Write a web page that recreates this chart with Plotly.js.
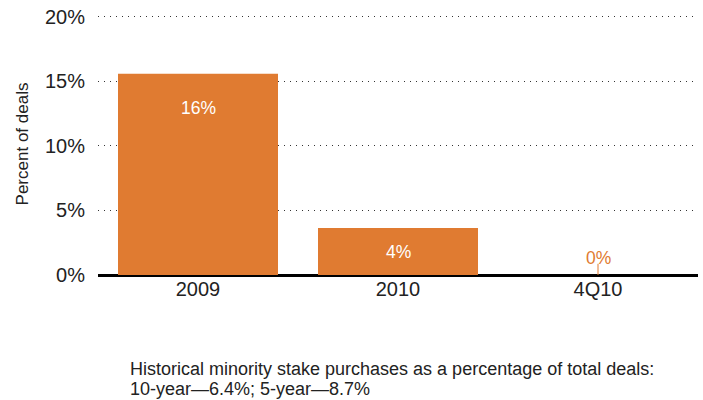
<!DOCTYPE html>
<html>
<head>
<meta charset="utf-8">
<script src="https://cdn.plot.ly/plotly-3.0.1.min.js"></script>
<style>html,body{margin:0;padding:0;background:#fff;}#chart{width:703px;height:400px;}</style>
</head>
<body>
<div id="chart"></div>
<script>
const categories = ['2009', '2010', '4Q10'];
const values = [15.6, 3.65, 0];
const labels = ['16%', '4%', '0%'];
const yTickVals = [0, 5, 10, 15, 20];
const yTickText = ['0%', '5%', '10%', '15%', '20%'];
const noteLines = [
  'Historical minority stake purchases as a percentage of total deals:',
  '10-year\u20146.4%; 5-year\u20148.7%'
];

const orange = '#E07B31';
const labelShift = [-34, -24, 17];
const labelColor = ['#ffffff', '#ffffff', orange];
const font = 'Liberation Sans, Arial, Helvetica, sans-serif';

const traces = [
  {
    type: 'bar',
    x: categories,
    y: values,
    width: 0.8,
    marker: {color: orange, line: {width: 0}},
    hoverinfo: 'skip'
  },
  {
    type: 'scatter',
    mode: 'markers',
    x: [categories[2]],
    y: [values[2]],
    marker: {symbol: 'line-ns-open', size: 16, color: orange, line: {color: orange, width: 1}},
    hoverinfo: 'skip'
  }
];

const annotations = categories.map((c, i) => ({
  x: i, y: values[i], xref: 'x', yref: 'y',
  text: labels[i], showarrow: false, yshift: labelShift[i],
  font: {family: font, size: 17.5, color: labelColor[i]}
}));
noteLines.forEach((t, i) => annotations.push({
  xref: 'paper', yref: 'paper', x: 0.05, y: -0.36 - i * 0.076,
  xanchor: 'left', yanchor: 'middle', align: 'left',
  text: t, showarrow: false,
  font: {family: font, size: 18, color: '#222'}
}));

const layout = {
  width: 703, height: 400,
  margin: {l: 98, r: 5, t: 13, b: 125},
  paper_bgcolor: '#fff', plot_bgcolor: '#fff',
  showlegend: false,
  font: {family: font, color: '#222'},
  xaxis: {
    type: 'category',
    categoryorder: 'array', categoryarray: categories,
    range: [-0.5, 2.5],
    tickfont: {family: font, size: 20, color: '#222'},
    showgrid: false, zeroline: false, showline: false,
    ticks: ''
  },
  yaxis: {
    range: [0, 20.3],
    tickvals: yTickVals, ticktext: yTickText,
    tickfont: {family: font, size: 20, color: '#222'},
    showgrid: true, gridcolor: '#333', gridwidth: 1, griddash: '1px,5px',
    zeroline: true, zerolinecolor: '#000', zerolinewidth: 2.5,
    showline: false, ticks: 'outside', ticklen: 8, tickcolor: 'rgba(0,0,0,0)',
    title: {text: 'Percent of deals', font: {family: font, size: 17, color: '#222'}, standoff: 12}
  },
  annotations: annotations
};

Plotly.newPlot('chart', traces, layout, {displayModeBar: false});
</script>
</body>
</html>
